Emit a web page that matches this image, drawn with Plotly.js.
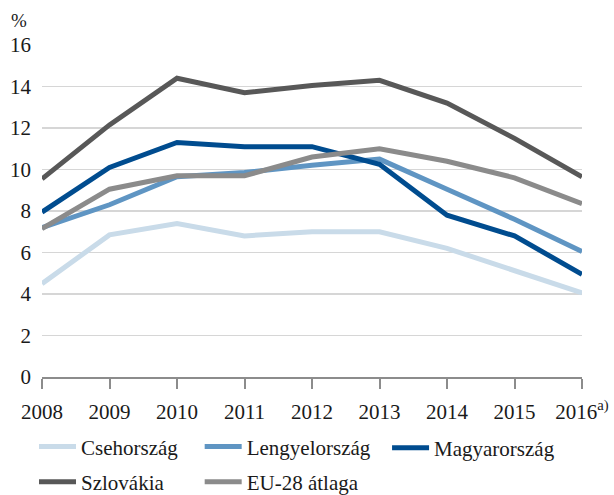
<!DOCTYPE html>
<html>
<head>
<meta charset="utf-8">
<script src="https://cdn.plot.ly/plotly-3.0.1.min.js"></script>
<style>html,body{margin:0;padding:0;background:#fff;}#chart{width:614px;height:495px;}</style>
</head>
<body>
<div id="chart"></div>
<script>
const years = [2008, 2009, 2010, 2011, 2012, 2013, 2014, 2015, 2016];
const yearLabels = ['2008','2009','2010','2011','2012','2013','2014','2015','2016<sup>a)</sup>'];
const csehorszag    = [4.5, 6.85, 7.4, 6.8, 7.0, 7.0, 6.2, 5.1, 4.05];
const lengyelorszag = [7.2, 8.3, 9.65, 9.85, 10.2, 10.5, 9.05, 7.6, 6.05];
const magyarorszag  = [7.95, 10.1, 11.3, 11.1, 11.1, 10.25, 7.8, 6.8, 4.95];
const szlovakia     = [9.55, 12.15, 14.4, 13.7, 14.05, 14.3, 13.2, 11.5, 9.65];
const eu28          = [7.15, 9.05, 9.7, 9.7, 10.6, 11.0, 10.4, 9.6, 8.35];

const font = "'Liberation Serif', 'Times New Roman', serif";
const FS = 21;
function tr(name, y, color, legend, order) {
  return {x: years, y: y, name: name, type: 'scatter', mode: 'lines',
          line: {color: color, width: 5}, cliponaxis: false, legend: legend,
          legendgroup: name, legendrank: order};
}
const data = [
  tr('Csehország', csehorszag, '#c9dbe9', 'legend', 1),
  tr('Lengyelország', lengyelorszag, '#5f95c3', 'legend2', 1),
  tr('Magyarország', magyarorszag, '#004c8f', 'legend3', 1),
  tr('Szlovákia', szlovakia, '#585858', 'legend', 2),
  tr('EU-28 átlaga', eu28, '#8b8b8b', 'legend2', 2)
];
function leg(x, y) {
  return {orientation: 'v', x: x, xanchor: 'left', xref: 'paper', y: y, yanchor: 'middle', yref: 'container',
          tracegroupgap: 5, itemwidth: 37, font: {family: font, size: FS, color: '#1a1a1a'},
          bgcolor: 'rgba(0,0,0,0)', itemclick: false};
}
const layout = {
  width: 614, height: 495,
  margin: {l: 42, r: 32, t: 45, b: 118},
  paper_bgcolor: '#fff', plot_bgcolor: '#fff',
  font: {family: font, size: FS, color: '#1a1a1a'},
  showlegend: true,
  xaxis: {
    range: [2008, 2016], tickvals: years, ticktext: yearLabels,
    showgrid: false, zeroline: false, showline: true, linecolor: '#8c8c8c', linewidth: 2,
    ticks: 'outside', ticklen: 10, tickwidth: 2, tickcolor: '#8c8c8c', ticklabelstandoff: 5,
    tickfont: {family: font, size: FS, color: '#1a1a1a'}, fixedrange: true
  },
  yaxis: {
    range: [0, 16], dtick: 2, tick0: 0, showgrid: true, gridcolor: '#d6d6d6', gridwidth: 1.5,
    zeroline: false, showline: false, ticks: '', ticklabelstandoff: 10,
    tickfont: {family: font, size: FS, color: '#1a1a1a'}, fixedrange: true
  },
  legend: leg(-0.0148, 0.062),
  legend2: leg(0.292, 0.062),
  legend3: leg(0.639, 0.095),
  annotations: [{
    text: '%', xref: 'paper', yref: 'paper', x: -0.043, y: 1.075, xanchor: 'center', yanchor: 'middle',
    showarrow: false, font: {family: font, size: 19, color: '#1a1a1a'}
  }]
};
Plotly.newPlot('chart', data, layout, {displayModeBar: false, staticPlot: true});
</script>
</body>
</html>
